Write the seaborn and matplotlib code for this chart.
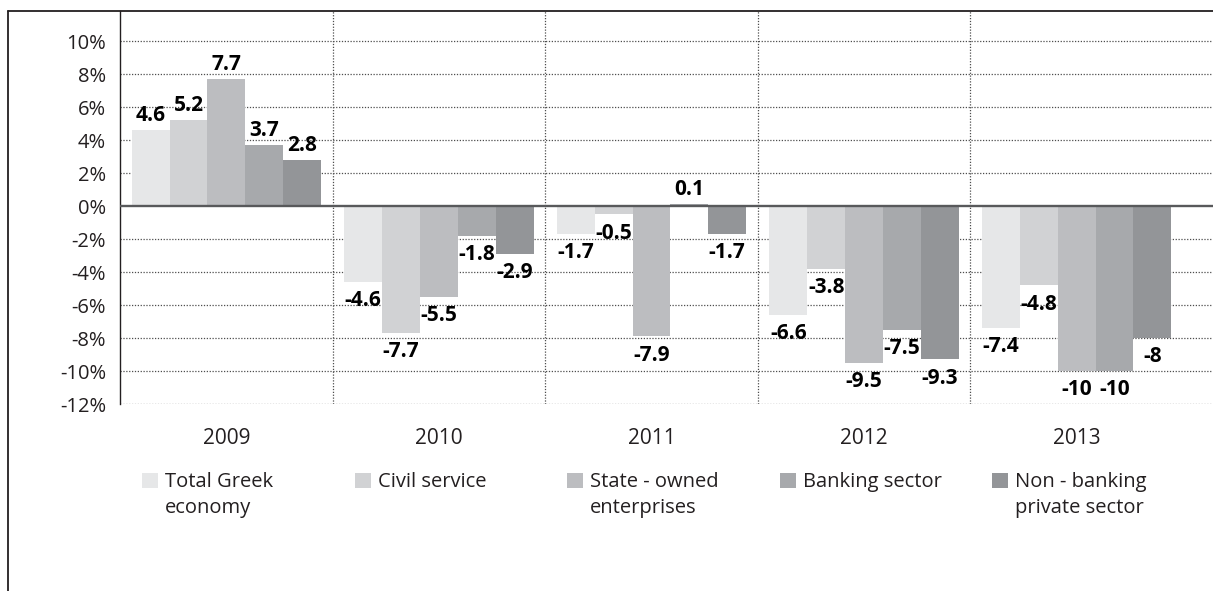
import numpy as np
import pandas as pd
import matplotlib
matplotlib.use("Agg")
import matplotlib.pyplot as plt
import matplotlib.transforms as mtransforms
from matplotlib.patches import Rectangle
from matplotlib.lines import Line2D
from matplotlib import font_manager
import seaborn as sns

# ---------------- data ----------------
years = ["2009", "2010", "2011", "2012", "2013"]
series = ["Total Greek\neconomy", "Civil service", "State - owned\nenterprises",
          "Banking sector", "Non - banking\nprivate sector"]
total_greek = [4.6, -4.6, -1.7, -6.6, -7.4]
civil_service = [5.2, -7.7, -0.5, -3.8, -4.8]
state_owned = [7.7, -5.5, -7.9, -9.5, -10]
banking_sector = [3.7, -1.8, 0.1, -7.5, -10]
non_banking = [2.8, -2.9, -1.7, -9.3, -8]
y_ticks = [-12, -10, -8, -6, -4, -2, 0, 2, 4, 6, 8, 10]
y_tick_labels = [f"{t}%" for t in y_ticks]
colors = ["#e6e7e8", "#d1d2d4", "#bcbdc0", "#a7a9ac", "#939598"]

values = [total_greek, civil_service, state_owned, banking_sector, non_banking]
rows = []
for s, vals in zip(series, values):
    for y, v in zip(years, vals):
        rows.append({"year": y, "series": s, "value": v})
df = pd.DataFrame(rows)

# ---------------- style ----------------
sns.set_style("white")
avail = {f.name for f in font_manager.fontManager.ttflist}
base_font = "Open Sans" if "Open Sans" in avail else "DejaVu Sans"
bold_font = "Liberation Sans Narrow" if "Liberation Sans Narrow" in avail else base_font
plt.rcParams["font.family"] = [base_font, "DejaVu Sans"]
text_color = "#231f20"

W, H = 1213, 591
fig = plt.figure(figsize=(W / 100, H / 100), dpi=100)
ax_left, ax_right, ax_top, ax_bottom = 120, 1213, 11, 404
ax = fig.add_axes([ax_left / W, 1 - ax_bottom / H, (ax_right - ax_left) / W,
                   (ax_bottom - ax_top) / H])

sns.barplot(data=df, x="year", y="value", hue="series", hue_order=series,
            order=years, palette=colors, saturation=1, width=0.89, gap=0,
            errorbar=None, legend=False, ax=ax, linewidth=0, zorder=2)

cat_px = 212.6
ax.set_xlim(-0.5, -0.5 + (ax_right - ax_left) / cat_px)
ax.set_ylim(-12, 11.82)
ax.set_yticks(y_ticks)
ax.set_yticklabels(y_tick_labels)
ax.set_xlabel("")
ax.set_ylabel("")

# grid lines
grid_kw = dict(color="#4d4d4d", lw=0.9, linestyle=(0, (1, 1.3)), zorder=1)
for t in y_ticks:
    if t != 0:
        ax.axhline(t, **grid_kw)
for xs in [0.5, 1.5, 2.5, 3.5]:
    ax.axvline(xs, **grid_kw)
ax.axhline(0, color="#58595b", lw=1.7, zorder=4)

for sp in ["top", "right", "bottom"]:
    ax.spines[sp].set_visible(False)
ax.spines["left"].set_color("#231f20")
ax.spines["left"].set_linewidth(1.0)

ax.tick_params(axis="y", length=0, pad=10, labelsize=14.5, labelcolor=text_color)
ax.tick_params(axis="x", length=0, pad=17, labelsize=15, labelcolor=text_color)

# data labels
for cont, vals in zip(ax.containers, values):
    for patch, v in zip(cont.patches, vals):
        xc = patch.get_x() + patch.get_width() / 2
        lab = f"{v:g}"
        if v >= 0:
            ax.annotate(lab, (xc, v), xytext=(0, 3), textcoords="offset points",
                        ha="center", va="bottom", fontsize=15, fontweight="bold",
                        family=[bold_font, "DejaVu Sans"], color="black", zorder=5)
        else:
            ax.annotate(lab, (xc, v), xytext=(0, -6), textcoords="offset points",
                        ha="center", va="top", fontsize=15, fontweight="bold",
                        family=[bold_font, "DejaVu Sans"], color="black", zorder=5)

# legend, aligned to category columns
blend = mtransforms.blended_transform_factory(ax.transData, fig.transFigure)
for i, (s, c) in enumerate(zip(series, colors)):
    x0 = i - 0.5 + 22 / cat_px
    ax.add_patch(Rectangle((x0, 1 - 488 / H), 16 / cat_px, 15 / H, transform=blend,
                           facecolor=c, edgecolor="none", clip_on=False))
    ax.text(i - 0.5 + 45 / cat_px, 1 - 472 / H, s, transform=blend, ha="left",
            va="top", fontsize=14.5, color=text_color, linespacing=1.4,
            clip_on=False)

# outer frame
fig.add_artist(Line2D([8 / W, 8 / W], [0, 1 - 11 / H], transform=fig.transFigure,
                      color="#231f20", lw=1.3))
fig.add_artist(Line2D([8 / W, 1], [1 - 11 / H, 1 - 11 / H], transform=fig.transFigure,
                      color="#231f20", lw=1.3))

fig.savefig("out.png", dpi=100)
